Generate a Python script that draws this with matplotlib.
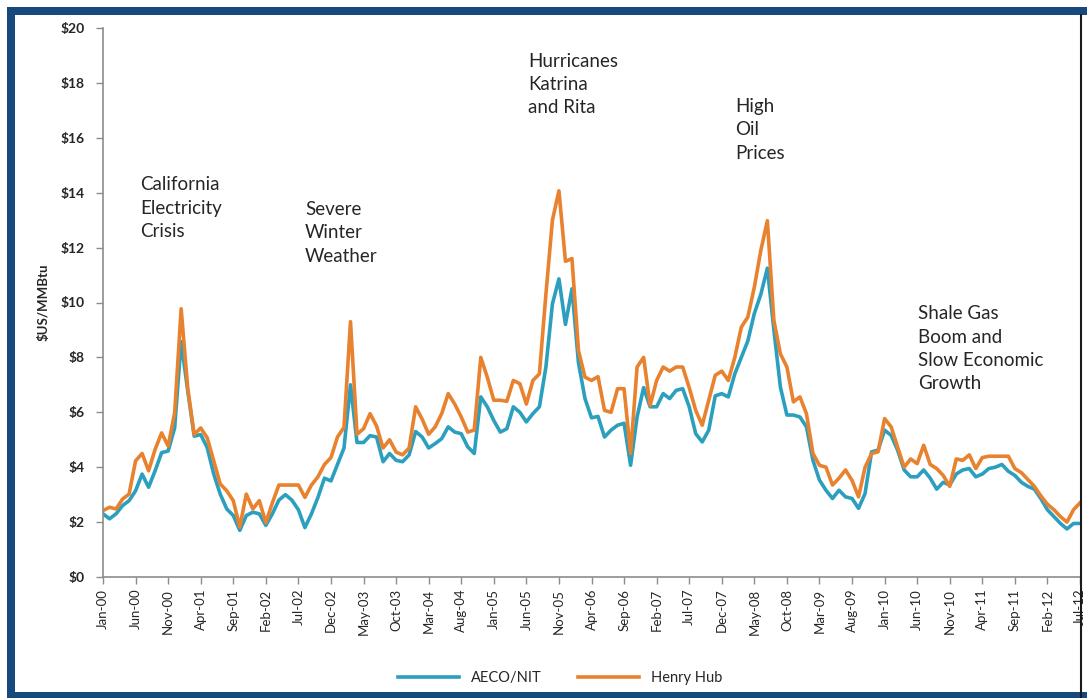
import matplotlib
matplotlib.use("Agg")
import matplotlib.pyplot as plt
from matplotlib.lines import Line2D
from matplotlib.patches import Rectangle
import numpy as np

# monthly prices, Jan-00 .. Jul-12 ($US/MMBtu)
henry_hub = [
    2.42, 2.54, 2.48, 2.84, 3.02, 4.23, 4.50, 3.87, 4.65, 5.25, 4.77, 5.98,   # 2000
    9.77, 6.90, 5.19, 5.43, 5.07, 4.23, 3.39, 3.14, 2.78, 1.82, 3.02, 2.48,   # 2001
    2.78, 1.98, 2.70, 3.35, 3.35, 3.35, 3.35, 2.90, 3.35, 3.65, 4.10, 4.35,   # 2002
    5.10, 5.45, 9.30, 5.20, 5.40, 5.95, 5.50, 4.70, 5.00, 4.55, 4.45, 4.70,   # 2003
    6.20, 5.75, 5.20, 5.47, 5.95, 6.68, 6.30, 5.83, 5.28, 5.35, 8.00, 7.28,   # 2004
    6.44, 6.44, 6.40, 7.16, 7.04, 6.30, 7.16, 7.40, 10.30, 13.00, 14.07, 11.50,  # 2005
    11.60, 8.25, 7.28, 7.16, 7.30, 6.07, 6.00, 6.86, 6.86, 4.50, 7.65, 8.00,  # 2006
    6.25, 7.16, 7.65, 7.50, 7.65, 7.65, 6.90, 6.07, 5.53, 6.44, 7.35, 7.50,   # 2007
    7.16, 8.00, 9.10, 9.47, 10.56, 11.90, 12.98, 9.35, 8.13, 7.65, 6.38, 6.56,  # 2008
    5.95, 4.50, 4.07, 4.00, 3.35, 3.60, 3.90, 3.52, 2.92, 4.00, 4.50, 4.56,   # 2009
    5.77, 5.47, 4.74, 4.00, 4.30, 4.13, 4.80, 4.10, 3.95, 3.70, 3.30, 4.30,   # 2010
    4.25, 4.45, 3.95, 4.35, 4.40, 4.40, 4.40, 4.40, 3.95, 3.80, 3.55, 3.30,   # 2011
    2.95, 2.65, 2.45, 2.20, 2.00, 2.45, 2.70,                                 # 2012
]
aeco_nit = [
    2.30, 2.12, 2.30, 2.60, 2.78, 3.14, 3.75, 3.27, 3.87, 4.53, 4.59, 5.43,
    8.57, 6.80, 5.13, 5.19, 4.71, 3.75, 3.02, 2.48, 2.24, 1.70, 2.24, 2.36,
    2.30, 1.88, 2.30, 2.80, 3.00, 2.80, 2.45, 1.80, 2.30, 2.90, 3.60, 3.50,
    4.10, 4.70, 7.00, 4.90, 4.90, 5.15, 5.10, 4.20, 4.50, 4.25, 4.20, 4.45,
    5.30, 5.10, 4.70, 4.86, 5.04, 5.47, 5.28, 5.22, 4.74, 4.50, 6.56, 6.20,
    5.70, 5.28, 5.40, 6.20, 6.00, 5.65, 5.95, 6.20, 7.65, 9.95, 10.86, 9.20,
    10.50, 7.80, 6.50, 5.80, 5.85, 5.10, 5.35, 5.53, 5.60, 4.07, 5.83, 6.90,
    6.20, 6.20, 6.68, 6.50, 6.80, 6.86, 6.20, 5.22, 4.92, 5.35, 6.60, 6.68,
    6.56, 7.40, 8.00, 8.60, 9.60, 10.30, 11.25, 9.00, 6.92, 5.90, 5.90, 5.83,
    5.47, 4.25, 3.53, 3.16, 2.86, 3.16, 2.92, 2.86, 2.50, 3.04, 4.56, 4.62,
    5.35, 5.16, 4.62, 3.90, 3.65, 3.65, 3.90, 3.60, 3.20, 3.45, 3.35, 3.75,
    3.90, 3.95, 3.65, 3.75, 3.95, 4.00, 4.10, 3.85, 3.70, 3.45, 3.30, 3.20,
    2.85, 2.45, 2.20, 1.95, 1.75, 1.95, 1.95,
]
months = ["Jan", "Feb", "Mar", "Apr", "May", "Jun",
          "Jul", "Aug", "Sep", "Oct", "Nov", "Dec"]
month_labels = [f"{months[i % 12]}-{i // 12:02d}" for i in range(len(henry_hub))]

events = [
    (5.7, 14.6, "California\nElectricity\nCrisis"),
    (31.0, 13.7, "Severe\nWinter\nWeather"),
    (65.3, 19.1, "Hurricanes\nKatrina\nand Rita"),
    (97.0, 17.45, "High\nOil\nPrices"),
    (125.2, 9.9, "Shale Gas\nBoom and\nSlow Economic\nGrowth"),
]

TEAL = "#2c9fbf"
ORANGE = "#e8822e"
TEXT = "#262626"
FRAME = "#164a7c"

plt.rcParams["font.family"] = ["Lato", "DejaVu Sans"]

fig = plt.figure(figsize=(10.87, 6.98), dpi=100)
ax = fig.add_axes([103 / 1087, 1 - 577 / 698, 977 / 1087, 549 / 698])

x = np.arange(len(henry_hub))
ax.plot(x, aeco_nit, color=TEAL, lw=2.6, solid_joinstyle="round")
ax.plot(x, henry_hub, color=ORANGE, lw=2.6, solid_joinstyle="round")

ax.set_xlim(0, len(henry_hub) - 1)
ax.set_ylim(0, 20)
ax.set_yticks(range(0, 21, 2))
ax.set_yticklabels([f"${v}" for v in range(0, 21, 2)], fontsize=10,
                   fontweight="bold", color=TEXT)
ax.set_xticks(x[::5])
ax.set_xticklabels(month_labels[::5], rotation=90, fontsize=9.5, color=TEXT)
ax.tick_params(axis="both", color="#8c8c8c", length=5, width=1, direction="out")
ax.tick_params(axis="y", pad=8)
for side in ("top", "right"):
    ax.spines[side].set_visible(False)
for side in ("left", "bottom"):
    ax.spines[side].set_color("#8c8c8c")
    ax.spines[side].set_linewidth(1.2)
ax.set_ylabel("$US/MMBtu", fontsize=9.5, fontweight="bold", color=TEXT,
              labelpad=8)

for ex, ey, label in events:
    ax.text(ex, ey, label, fontsize=13.5, color=TEXT, va="top", ha="left",
            linespacing=1.45)

handles = [Line2D([], [], color=TEAL, lw=2.6), Line2D([], [], color=ORANGE, lw=2.6)]
fig.legend(handles, ["AECO/NIT", "Henry Hub"], loc="center",
           bbox_to_anchor=(560 / 1087, 1 - 678 / 698), ncol=2, frameon=False,
           fontsize=10.5, handlelength=4.2, columnspacing=2.5,
           labelcolor=TEXT)

# blue frame around the exhibit
fig.add_artist(Rectangle((7 / 1087, 1 - 15 / 698), 1, 8 / 698,
                         transform=fig.transFigure, color=FRAME, lw=0))
fig.add_artist(Rectangle((7 / 1087, 0), 8 / 1087, 1 - 7 / 698,
                         transform=fig.transFigure, color=FRAME, lw=0))
fig.add_artist(Rectangle((7 / 1087, 0), 1, 6 / 698,
                         transform=fig.transFigure, color=FRAME, lw=0))
fig.add_artist(Line2D([1081 / 1087, 1081 / 1087], [0, 1 - 15 / 698],
                      transform=fig.transFigure, color="#1a1a1a", lw=1.5))

fig.savefig("out.png", dpi=100)
